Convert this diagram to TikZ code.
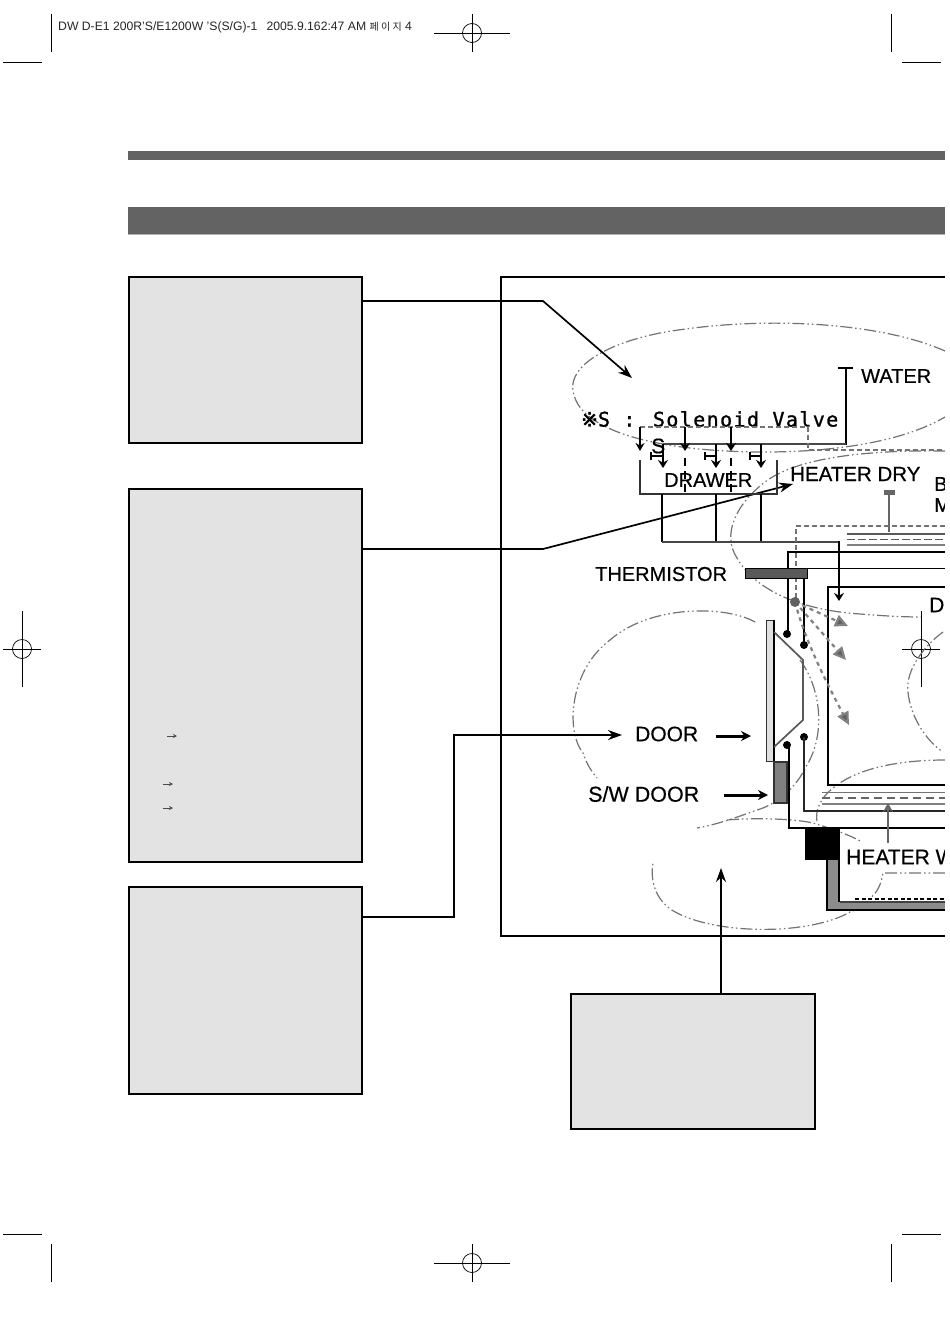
\documentclass[tikz,border=0pt]{standalone}
\usepackage{fontspec}
\setmainfont{Liberation Sans}
\newfontfamily\korfont{Noto Sans CJK KR}
\newfontfamily\labf{Liberation Sans}[FakeBold=0.5]
\newfontfamily\monof{DejaVu Sans Mono}[FakeBold=1.2,LetterSpace=7]
\newfontfamily\symfont{DejaVu Sans}[FakeBold=2]
\usetikzlibrary{arrows.meta,calc}
\definecolor{boxgray}{gray}{0.89}
\definecolor{barA}{gray}{0.39}
\definecolor{barB}{gray}{0.39}
\definecolor{midg}{gray}{0.38}
\tikzset{
 panel/.style={draw=black,line width=1.5pt,fill=boxgray},
 callout/.style={draw=black,line width=1.7pt,-{Stealth[length=14pt,width=10pt]}},
 lab/.style={font=\labf\fontsize{20}{20}\selectfont,inner sep=0pt,anchor=west},
 fat/.style={draw=black,line width=3pt,-{Stealth[length=10pt,width=10pt]}},
 pipe/.style={draw=black,line width=1.5pt},
 gpipe/.style={draw=black!72,line width=2.4pt},
 drop/.style={draw=black,line width=1.6pt,-{Stealth[length=8pt,width=9pt]}},
 dropb/.style={draw=black,line width=2.4pt,-{Stealth[length=8pt,width=10pt]}},
 crop/.style={draw=black,line width=0.7pt},
 bubble/.style={draw=black!55,line width=1.2pt,dash pattern=on 12pt off 3pt on 1.5pt off 3pt on 1.5pt off 3pt},
 air/.style={draw=midg!80,line width=2.2pt,dash pattern=on 4pt off 4pt,-{Triangle[length=13pt,width=12pt,fill=midg]}},
 dot/.style={circle,fill=black,inner sep=0pt,minimum size=8pt},
 gdash/.style={draw=black!55,line width=1.1pt,dash pattern=on 5pt off 3pt},
}
\begin{document}
\begin{tikzpicture}[x=1pt,y=-1pt]
\useasboundingbox (0,0) rectangle (950,1344);
\fill[white] (0,0) rectangle (950,1344);
% header text
\node[inner sep=0pt,anchor=west,font=\fontsize{12.2}{13}\selectfont,text=black!85] (hdr) at (58,27) {DW D-E1 200R'S/E1200W 'S(S/G)-1\hspace{9pt}2005.9.162:47 AM {\korfont\fontsize{10}{10}\selectfont 페 이 지} 4};
% crop marks
\coordinate (t1a) at (51,14); \coordinate (t1b) at (51,52); \draw[crop] (t1a)--(t1b);
\coordinate (t2a) at (3,62); \coordinate (t2b) at (42,62); \draw[crop] (t2a)--(t2b);
\coordinate (t3a) at (891,14); \coordinate (t3b) at (891,52); \draw[crop] (t3a)--(t3b);
\coordinate (t4a) at (902,62); \coordinate (t4b) at (941,62); \draw[crop] (t4a)--(t4b);
\coordinate (b1a) at (51,1244); \coordinate (b1b) at (51,1282); \draw[crop] (b1a)--(b1b);
\coordinate (b2a) at (3,1234); \coordinate (b2b) at (42,1234); \draw[crop] (b2a)--(b2b);
\coordinate (b3a) at (891,1244); \coordinate (b3b) at (891,1282); \draw[crop] (b3a)--(b3b);
\coordinate (b4a) at (902,1234); \coordinate (b4b) at (941,1234); \draw[crop] (b4a)--(b4b);
% registration
\foreach \n/\x/\y in {ra/472/33,rb/472/1263}{
 \node[circle,draw=black,line width=0.7pt,inner sep=0pt,minimum size=19pt] (\n) at (\x,\y) {};
 \draw[crop] (\x-38,\y)--(\x+38,\y) (\x,\y-19)--(\x,\y+19);
}
\foreach \n/\x/\y in {rc/22/649,rd/921/649}{
 \node[circle,draw=black,line width=0.7pt,inner sep=0pt,minimum size=19pt] (\n) at (\x,\y) {};
 \draw[crop] (\x-19,\y)--(\x+19,\y) (\x,\y-38)--(\x,\y+38);
}
% header bars
\fill[barA] (128,151) rectangle (945,160);
\fill[barB] (128,207) rectangle (945,234);
\fill[black!30] (128,234) rectangle (945,235);
% main frame
\coordinate (fTL) at (501,277); \coordinate (fBL) at (501,936);
\draw[black,line width=1.7pt] (945,277)--(fTL)--(fBL)--(945,936);
% panels
\node[panel,minimum width=233pt,minimum height=166pt,inner sep=0pt] (p1) at (245.5,360) {};
\node[panel,minimum width=233pt,minimum height=373pt,inner sep=0pt] (p2) at (245.5,675.5) {};
\node[panel,minimum width=233pt,minimum height=207pt,inner sep=0pt] (p3) at (245.5,990.5) {};
\node[panel,minimum width=244pt,minimum height=135pt,inner sep=0pt] (p4) at (693,1061.5) {};
% small arrows in panel 2
\foreach \nm/\x/\y in {sa/167/736,sb/163/784,sc/163/808}{
 \coordinate (\nm) at (\x,\y);
 \draw[black!70,line width=0.6pt,-{Stealth[length=4pt,width=4pt]}] (\nm)--++(10,0);
}
% bubbles
\begin{scope}
\clip (501,277) rectangle (945,936);
\draw[bubble] (945,351) .. controls (880,322) and (760,315) .. (660,333) .. controls (600,345) and (565,370) .. (574,395) .. controls (580,420) and (620,440) .. (690,448) .. controls (760,456) and (880,455) .. (945,417);
\draw[bubble] (945,451) .. controls (880,450) and (800,455) .. (765,482) .. controls (735,505) and (722,535) .. (737,558) .. controls (755,590) and (800,610) .. (860,614) .. controls (885,616) and (905,617) .. (921,617);
\draw[bubble] (943,632) .. controls (925,645) and (905,670) .. (908,692) .. controls (910,715) and (925,740) .. (943,752);
\draw[bubble] (755,622) .. controls (725,605) and (650,605) .. (610,640) .. controls (570,670) and (565,730) .. (583,753) .. controls (587,765) and (592,772) .. (597,778);
\draw[bubble] (800,660) .. controls (822,690) and (825,735) .. (807,765) .. controls (795,790) and (775,805) .. (757,810) .. controls (735,818) and (715,825) .. (697,828);
\draw[bubble] (727,820) .. controls (750,818) and (790,818) .. (813,823) .. controls (830,828) and (850,835) .. (862,842);
\draw[bubble] (945,760) .. controls (900,760) and (860,768) .. (837,785) .. controls (820,797) and (815,810) .. (817,822);
\draw[bubble] (945,873) .. controls (925,874) and (900,874) .. (883,873) .. controls (880,890) and (870,905) .. (850,912) .. controls (810,935) and (720,935) .. (677,913) .. controls (655,902) and (650,880) .. (653,863);
\end{scope}
% diagram labels
\node[lab] (water) at (861,376) {WATER};
\node[inner sep=0pt,anchor=west,font=\monof\fontsize{20}{20}\selectfont] (sv) at (581,419) {{\symfont ※}S :\hspace{4pt} Solenoid Valve};
\node[lab,font=\labf\fontsize{21}{21}\selectfont] (s) at (651,446) {S};
\node[lab] (drawer) at (664,480) {DRAWER};
\node[lab,font=\labf\fontsize{20.5}{21}\selectfont] (hdry) at (790,474) {HEATER DRY};
\node[lab] (b) at (934,484) {B};
\node[lab] (m) at (934,505) {M};
\node[lab,font=\labf\fontsize{20}{21}\selectfont] (therm) at (595,574) {THERMISTOR};
\node[lab,font=\labf\fontsize{21}{21}\selectfont] (d) at (929,605) {D};
\node[lab,font=\labf\fontsize{21}{21}\selectfont] (door) at (635,734) {DOOR};
\node[lab,font=\labf\fontsize{21.5}{21}\selectfont] (swd) at (588,794) {S/W DOOR};
% callouts
\draw[callout] (p1.east|-0,301)--(543,301)--(632,378);
\draw[callout] (p2.east|-0,549)--(543,549)--(793,484);
\draw[callout] (p3.east|-0,917)--(454,917)--(454,735)--(622,735);
\coordinate (p4t) at (721,993);
\draw[callout] (p4t)--(721,868);
% water pipes
\draw[pipe] (838,368)--(853,368) (846,368)--(846,445);
\draw[gpipe] (663,444)--(846,444);
% dashed valve box
\draw[gdash] (640,427)--(808,427)--(808,450)--(945,450);
% drops
\draw[drop] (640,427)--(640,451);
\draw[dropb] (685,427)--(685,451);
\draw[dropb] (731,427)--(731,451);
\draw[dropb] (663,444)--(663,468);
\draw[dropb] (716,444)--(716,468);
\draw[dropb] (761,444)--(761,468);
% valves
\draw[pipe] (651,452)--(651,460) (651,456)--(663,456);
\draw[pipe] (705,452)--(705,460) (705,456)--(716,456);
\draw[pipe] (750,452)--(750,460) (750,456)--(761,456);
% drawer
\draw[black!80,line width=1.8pt] (640,460)--(640,494)--(777,494)--(777,460);
\draw[black,line width=2pt,dash pattern=on 8pt off 5pt] (685,458)--(685,494) (731,458)--(731,494);
\draw[pipe] (662,494)--(662,542) (716,494)--(716,542) (761,494)--(761,542);
\draw[gpipe] (662,542)--(839,542);
\draw[draw=black,line width=2.4pt,-{Stealth[length=8pt,width=10pt]}] (839,541)--(839,601);
% BM
\draw[draw=black!60,line width=2.4pt] (889,493)--(889,532);
\fill[black!60] (884,490) rectangle (895,495);
\draw[gdash] (945,526)--(796,526)--(796,600);
\draw[black!65,line width=2pt] (847,534)--(945,534);
\draw[black!65,line width=1.2pt,dash pattern=on 8pt off 3pt] (847,539.5)--(945,539.5);
\draw[black!50,line width=1.5pt] (847,545)--(945,545);
% wires / thermistor
\draw[draw=black,line width=2pt] (945,552)--(788,552)--(788,634);
\draw[draw=black,line width=2pt] (804,575)--(804,645);
\draw[pipe] (807,568.5)--(945,568.5);
\draw[black,line width=2pt] (945,587)--(828,587)--(828,785);
\draw[black,line width=2.6pt] (827,785)--(945,785);
\draw[black,fill=black!65,line width=1pt] (745,568) rectangle (807,578);
\node[dot] (d1) at (787,634) {};
\node[dot] (d2) at (804,645) {};
\node[dot] (d3) at (804,737) {};
\node[dot] (d4) at (787,745) {};
% door
\draw[black!80,line width=1pt,fill=black!12] (766,620) rectangle (773,761);
\draw[black,line width=2pt] (774,620)--(774,761);
\draw[black!65,line width=1.7pt] (774,632)--(803,660)--(803,720)--(774,747);
\draw[black!80,line width=1.2pt,fill=black!50] (774,762) rectangle (787,803);
\draw[pipe] (789,745)--(789,828)--(945,828);
\draw[black!85,line width=2pt] (804,737)--(804,811)--(945,811);
% heater wash
\draw[black!55,line width=1pt] (822,792)--(945,792);
\draw[black!60,line width=2pt,dash pattern=on 8pt off 5pt] (822,798)--(945,798);
\draw[black!50,line width=1.2pt] (822,804)--(945,804);
\draw[black!60,line width=2.2pt,-{Stealth[length=9pt,width=10pt]}] (888,843)--(888,803);
% sump
\fill[black] (805,828) rectangle (840,860);
\fill[black!45] (827,860) rectangle (945,910);
\fill[white] (840,860) rectangle (945,901);
\draw[black!75,line width=2.6pt] (840,902)--(945,902);
\draw[black,line width=1.5pt] (945,910)--(827,910)--(827,860);
\draw[black,line width=1.5pt] (839,860)--(839,902);
\node[lab,font=\labf\fontsize{21}{21}\selectfont] (hw) at (846,857) {HEATER W};
\draw[black,line width=1.3pt,dash pattern=on 4pt off 2.5pt] (855,899)--(945,899);
\draw[bubble] (945,873)--(883,873) .. controls (881,885) and (877,893) .. (870,898);
% door arrows
\draw[fat] (716,736)--(751,736);
\draw[fat] (724,795)--(768,795);
% air arrows
\draw[air] (795,602)--(848,626);
\draw[air] (795,602)--(846,660);
\draw[air] (795,602) .. controls (805,640) and (825,680) .. (849,725);
\fill[midg] (795,602) circle (5pt);
% white margin
\fill[white] (945,0) rectangle (950,1344);
\end{tikzpicture}
\end{document}
